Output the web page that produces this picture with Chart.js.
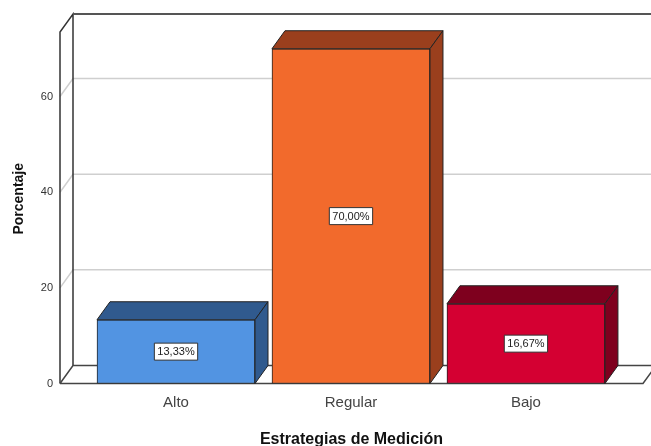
<!DOCTYPE html>
<html>
<head>
<meta charset="utf-8">
<script src="https://cdn.jsdelivr.net/npm/chart.js@4/dist/chart.umd.min.js"></script>
<style>
  html, body { margin: 0; padding: 0; background: #fff; }
  #marco { width: 651px; height: 446px; }
</style>
</head>
<body>
<div id="marco"><canvas id="grafico"></canvas></div>
<script>
// Datos
var categorias = ["Alto", "Regular", "Bajo"];
var porcentajes = [13.33, 70.00, 16.67];
var valoresEje = [0, 20, 40, 60];

// Colores de cada barra: cara frontal y caras superior/lateral
var coloresFrente = ["#5294e2", "#f26a2c", "#d40032"];
var coloresSombra = ["#305a8e", "#9a3f1d", "#7e001e"];

// Profundidad del efecto 3D
var PROF_X = 13;
var PROF_Y = -18;

var fuente = "Arial, 'Liberation Sans', sans-serif";

function formatoPorcentaje(v) {
  return v.toFixed(2).replace(".", ",") + "%";
}

// Paredes, suelo y lineas de cuadricula en perspectiva
var paredes = {
  id: "paredes",
  beforeDatasetsDraw: function(chart) {
    var ctx = chart.ctx;
    var area = chart.chartArea;
    var ejeY = chart.scales.y;
    var izq = area.left, der = area.right, arriba = area.top, abajo = area.bottom;

    ctx.save();
    // lineas de cuadricula en la pared del fondo
    ctx.strokeStyle = "#cfcfcf";
    ctx.lineWidth = 1.5;
    for (var i = 1; i < valoresEje.length; i++) {
      var py = ejeY.getPixelForValue(valoresEje[i]);
      ctx.beginPath();
      ctx.moveTo(izq, py);
      ctx.lineTo(izq + PROF_X, py + PROF_Y);
      ctx.lineTo(der + PROF_X + 20, py + PROF_Y);
      ctx.stroke();
    }

    ctx.strokeStyle = "#333";
    ctx.lineWidth = 1.5;
    // pared izquierda
    ctx.beginPath();
    ctx.moveTo(izq, abajo);
    ctx.lineTo(izq, arriba);
    ctx.lineTo(izq + PROF_X, arriba + PROF_Y);
    ctx.lineTo(izq + PROF_X, abajo + PROF_Y);
    ctx.stroke();
    // borde superior de la pared del fondo
    ctx.lineWidth = 2;
    ctx.strokeStyle = "#555";
    ctx.beginPath();
    ctx.moveTo(izq + PROF_X, arriba + PROF_Y);
    ctx.lineTo(der + PROF_X + 20, arriba + PROF_Y);
    ctx.stroke();
    // suelo
    ctx.lineWidth = 1.5;
    ctx.strokeStyle = "#444";
    ctx.beginPath();
    ctx.moveTo(izq, abajo);
    ctx.lineTo(izq + PROF_X, abajo + PROF_Y);
    ctx.lineTo(der + PROF_X + 20, abajo + PROF_Y);
    ctx.moveTo(izq, abajo);
    ctx.lineTo(der, abajo);
    ctx.lineTo(der + PROF_X, abajo + PROF_Y);
    ctx.stroke();
    ctx.restore();
  }
};

// Caras superior y lateral de las barras, y etiquetas de valor
var barras3d = {
  id: "barras3d",
  afterDatasetsDraw: function(chart) {
    var ctx = chart.ctx;
    var meta = chart.getDatasetMeta(0);
    ctx.save();
    ctx.lineWidth = 1;
    ctx.lineJoin = "round";
    for (var i = 0; i < meta.data.length; i++) {
      var b = meta.data[i];
      var izq = b.x - b.width / 2;
      var der = b.x + b.width / 2;
      var arriba = b.y;
      var base = b.base;

      ctx.strokeStyle = "#222";
      ctx.fillStyle = coloresSombra[i];
      // cara superior
      ctx.beginPath();
      ctx.moveTo(izq, arriba);
      ctx.lineTo(izq + PROF_X, arriba + PROF_Y);
      ctx.lineTo(der + PROF_X, arriba + PROF_Y);
      ctx.lineTo(der, arriba);
      ctx.closePath();
      ctx.fill();
      ctx.stroke();
      // cara lateral
      ctx.beginPath();
      ctx.moveTo(der, arriba);
      ctx.lineTo(der + PROF_X, arriba + PROF_Y);
      ctx.lineTo(der + PROF_X, base + PROF_Y);
      ctx.lineTo(der, base);
      ctx.closePath();
      ctx.fill();
      ctx.stroke();

      // etiqueta con el porcentaje
      var texto = formatoPorcentaje(porcentajes[i]);
      ctx.font = "11px " + fuente;
      var ancho = ctx.measureText(texto).width + 6;
      var alto = 17;
      var cy = (arriba + base) / 2;
      ctx.fillStyle = "#fff";
      ctx.fillRect(b.x - ancho / 2, cy - alto / 2, ancho, alto);
      ctx.strokeStyle = "#333";
      ctx.strokeRect(b.x - ancho / 2, cy - alto / 2, ancho, alto);
      ctx.fillStyle = "#222";
      ctx.textAlign = "center";
      ctx.textBaseline = "middle";
      ctx.fillText(texto, b.x, cy + 0.5);
    }
    ctx.restore();
  }
};

// Titulo del eje vertical, centrado en la profundidad de la caja
var tituloY = {
  id: "tituloY",
  afterDraw: function(chart) {
    var ctx = chart.ctx;
    var area = chart.chartArea;
    var cy = (area.top + area.bottom + PROF_Y) / 2;
    ctx.save();
    ctx.translate(19, cy);
    ctx.rotate(-Math.PI / 2);
    ctx.font = "bold 14px " + fuente;
    ctx.fillStyle = "#111";
    ctx.textAlign = "center";
    ctx.textBaseline = "middle";
    ctx.fillText("Porcentaje", 0, 0);
    ctx.restore();
  }
};

var puntos = [];
for (var i = 0; i < porcentajes.length; i++) {
  puntos.push({ x: i, y: porcentajes[i] });
}

var ctx = document.getElementById("grafico").getContext("2d");

var chart = new Chart(ctx, {
  type: "bar",
  data: {
    datasets: [{
      data: puntos,
      backgroundColor: coloresFrente,
      borderColor: "#222",
      borderWidth: 1,
      borderSkipped: false,
      barThickness: 158
    }]
  },
  options: {
    responsive: true,
    maintainAspectRatio: false,
    animation: false,
    layout: { padding: { top: 32, right: 8, left: 0, bottom: 0 } },
    plugins: {
      legend: { display: false },
      tooltip: { enabled: false }
    },
    scales: {
      x: {
        type: "linear",
        offset: false,
        min: -0.663,
        max: 2.669,
        grid: { display: false, drawTicks: false, offset: false },
        border: { display: false },
        afterBuildTicks: function(scale) {
          scale.ticks = categorias.map(function(c, i) { return { value: i }; });
        },
        afterFit: function(scale) { scale.height = 62.5; },
        ticks: {
          padding: 10,
          color: "#444",
          font: { family: fuente, size: 15 },
          callback: function(v) { return categorias[v]; }
        },
        title: {
          display: true,
          text: "Estrategias de Medición",
          color: "#111",
          font: { family: fuente, size: 16, weight: "bold", lineHeight: 1 },
          padding: { top: 0, bottom: -2 }
        }
      },
      y: {
        min: 0,
        max: 73.5,
        grid: { display: false, drawTicks: false },
        border: { display: false },
        afterFit: function(scale) { scale.width = 60; },
        afterBuildTicks: function(scale) {
          scale.ticks = valoresEje.map(function(v) { return { value: v }; });
        },
        ticks: {
          padding: 7,
          color: "#333",
          font: { family: fuente, size: 11 }
        }
      }
    }
  },
  plugins: [paredes, barras3d, tituloY]
});
</script>
</body>
</html>
